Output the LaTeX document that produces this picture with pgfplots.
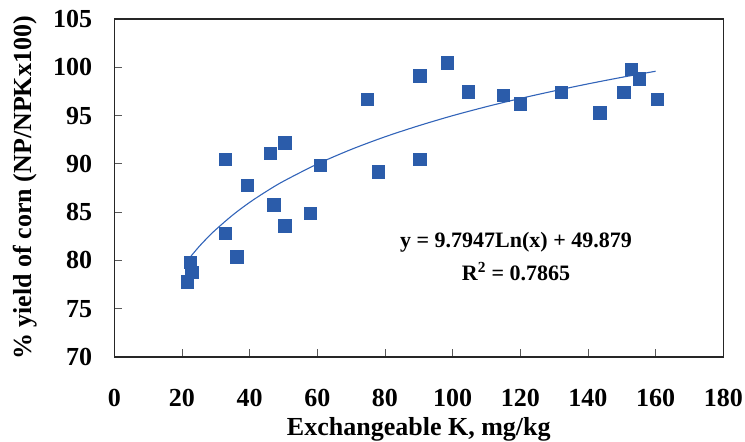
\documentclass[border=0pt]{standalone}
\usepackage{fontspec}
\setmainfont{Liberation Serif}
\usepackage{pgfplots}
\pgfplotsset{compat=1.18}
\definecolor{ptblue}{RGB}{43,92,170}
\definecolor{lnblue}{RGB}{50,100,185}
\begin{document}
\begin{tikzpicture}
\begin{axis}[
  name=ax,
  width=609pt, height=338pt, scale only axis,
  xmin=0, xmax=180, ymin=70, ymax=105,
  xtick={0,20,...,180}, ytick={70,75,...,105},
  tick pos=left, tick align=inside,
  major tick length=8pt,
  tick style={black!65, line width=0.9pt},
  axis line style={black!85, line width=1.1pt},
  /pgf/number format/assume math mode=true,
  tick label style={font=\bfseries\fontsize{26}{31}\selectfont, inner sep=0pt},
  xticklabel style={anchor=north, yshift=-32pt},
  yticklabel style={anchor=east, xshift=-22pt},
  xlabel={Exchangeable K, mg/kg},
  ylabel={\% yield of corn (NP/NPKx100)},
  label style={font=\bfseries\fontsize{26}{31}\selectfont, inner sep=0pt},
  xlabel style={at={(rel axis cs:0.5,-0.2331)}, anchor=base},
  ylabel style={at={(rel axis cs:-0.1466,0.5)}, anchor=center, rotate=0},
  clip=false,
]
\addplot[only marks, mark=square*, mark size=6.3pt, mark options={draw=ptblue, fill=ptblue}] coordinates {
(21.6,77.8) (22.4,79.8) (22.9,78.8) (32.8,90.5) (32.8,82.8) (36.1,80.4)
(39.3,87.8) (46.1,91.1) (47.2,85.8) (50.3,92.2) (50.3,83.6) (57.9,84.9)
(60.9,89.85) (74.8,96.7) (78.0,89.2) (90.2,99.1) (90.2,90.5) (98.4,100.5)
(104.6,97.5) (115.0,97.1) (120.0,96.2) (132.1,97.4) (143.4,95.3) (150.5,97.4)
(152.8,99.8) (155.2,98.8) (160.5,96.7)
};
\addplot[lnblue, line width=1.1pt, smooth] coordinates {
(22.4,80.33) (25,81.41) (27.5,82.34) (30,83.19) (35,84.70) (40,86.01) (45,87.16)
(50,88.20) (60,89.98) (70,91.49) (80,92.80) (90,93.95) (100,94.99)
(110,95.92) (120,96.77) (130,97.55) (140,98.28) (150,98.96) (160,99.59)
};
\node[anchor=base, font=\bfseries\fontsize{22}{26}\selectfont, inner sep=0pt] at (axis cs:118.74,81.29) {y = 9.7947Ln(x) + 49.879};
\node[anchor=base, font=\bfseries\fontsize{22}{26}\selectfont, inner sep=0pt] at (axis cs:118.74,77.97) {R\textsuperscript{2} = 0.7865};
\end{axis}
\pgfresetboundingbox
\path ([shift={(-114.3pt,-84.3pt)}]ax.south west) rectangle ([shift={(21.7pt,19pt)}]ax.north east);
\end{tikzpicture}
\end{document}
